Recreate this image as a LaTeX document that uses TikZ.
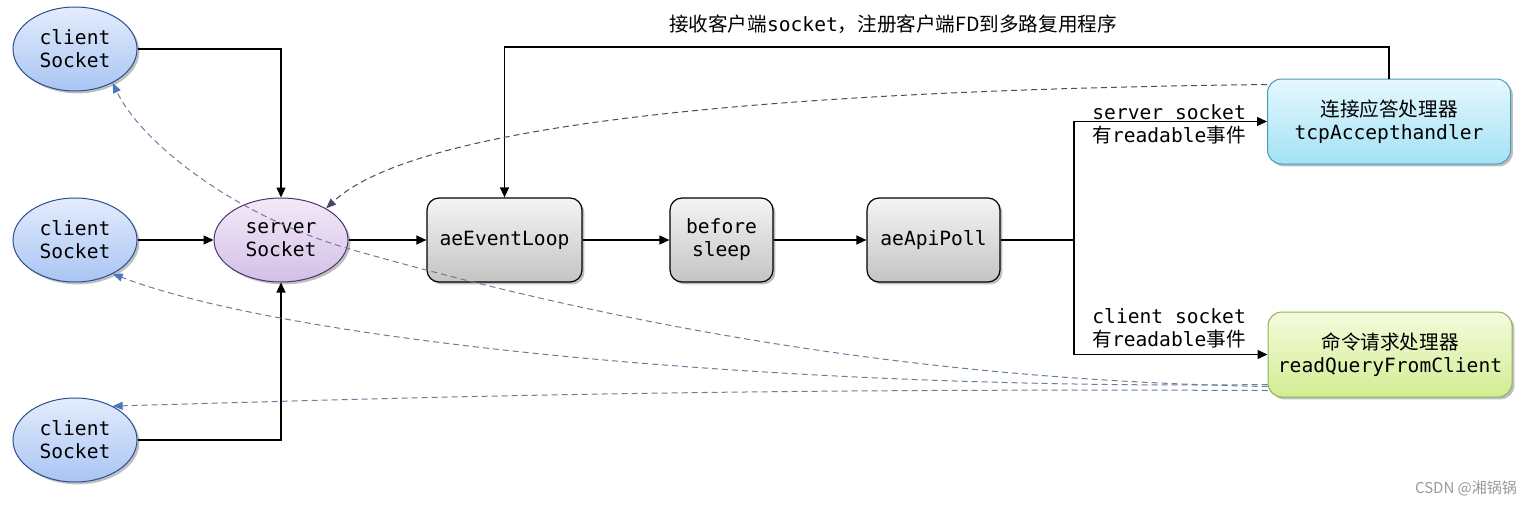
\documentclass[tikz,border=0pt]{standalone}
\usepackage{fontspec}
\setmainfont{DejaVu Sans Mono}
\newfontfamily\cjk{Noto Sans CJK SC}
\usetikzlibrary{shapes.geometric,arrows.meta,shadows,calc}
\definecolor{clTop}{HTML}{E3ECFC}
\definecolor{clBot}{HTML}{A9C5F4}
\definecolor{clDraw}{HTML}{2C4F8C}
\definecolor{svTop}{HTML}{F3EAF8}
\definecolor{svBot}{HTML}{D3BFE7}
\definecolor{svDraw}{HTML}{4D3566}
\definecolor{gyTop}{HTML}{F4F4F4}
\definecolor{gyBot}{HTML}{C4C4C4}
\definecolor{tcTop}{HTML}{E6F8FD}
\definecolor{tcBot}{HTML}{A2E2F6}
\definecolor{tcDraw}{HTML}{4A9AB5}
\definecolor{cmTop}{HTML}{F5FBDD}
\definecolor{cmBot}{HTML}{D2ED92}
\definecolor{cmDraw}{HTML}{8FB05A}
\definecolor{dashcol}{HTML}{6A7D99}
\definecolor{bluetip}{HTML}{4A78C0}
\definecolor{darktip}{HTML}{4A4A6A}
\tikzset{
  shad/.style={drop shadow={shadow xshift=1.2pt,shadow yshift=-1.2pt,opacity=0.25,fill=black}},
  clientnode/.style={ellipse,draw=clDraw,line width=0.5pt,top color=clTop,bottom color=clBot,
    minimum width=62pt,minimum height=42pt,inner sep=0pt,align=center,shad},
  servernode/.style={ellipse,draw=svDraw,line width=0.5pt,top color=svTop,bottom color=svBot,
    minimum width=67pt,minimum height=42pt,inner sep=0pt,align=center,shad},
  graybox/.style={rectangle,rounded corners=6pt,draw=black,line width=0.6pt,top color=gyTop,bottom color=gyBot,
    minimum height=42pt,inner sep=0pt,align=center,shad},
  tcpbox/.style={rectangle,rounded corners=7pt,draw=tcDraw,line width=0.5pt,top color=tcTop,bottom color=tcBot,
    minimum width=121.5pt,minimum height=42.5pt,inner sep=0pt,align=center,shad},
  cmdbox/.style={rectangle,rounded corners=7pt,draw=cmDraw,line width=0.5pt,top color=cmTop,bottom color=cmBot,
    minimum width=122pt,minimum height=42.5pt,inner sep=0pt,align=center,shad},
  arr/.style={draw=black,line width=0.65pt,-{Triangle[length=5pt,width=4.5pt]}},
  plain/.style={draw=black,line width=0.65pt},
  dashblue/.style={draw=dashcol,line width=0.5pt,dash pattern=on 3pt off 2pt,
    -{Triangle[length=5pt,width=4pt,fill=bluetip,color=bluetip]}},
  dashdark/.style={draw=darktip,line width=0.5pt,dash pattern=on 3pt off 2pt,
    -{Triangle[length=5pt,width=4pt,fill=darktip,color=darktip]}},
  lbl/.style={align=left,inner sep=0pt}
}
\begin{document}
\begin{tikzpicture}[x=0.5pt,y=-0.5pt,font=\fontsize{9.8}{11.5}\selectfont]
\useasboundingbox (0,0) rectangle (1531,504);

% nodes
\node[clientnode] (c1) at (75,49) {client\\Socket};
\node[clientnode] (c2) at (75,240) {client\\Socket};
\node[clientnode] (c3) at (75,440) {client\\Socket};
\node[servernode] (sv) at (281,240) {server\\Socket};
\node[graybox,minimum width=77.5pt] (evl) at (504.5,240) {aeEventLoop};
\node[graybox,minimum width=51.5pt] (bsl) at (721.5,240) {before\\sleep};
\node[graybox,minimum width=66.5pt] (poll) at (933.5,240) {aeApiPoll};
\node[tcpbox] (tcp) at (1389,121.5) {{\cjk 连接应答处理器}\\tcpAccepthandler};
\node[cmdbox] (cmd) at (1390,354.5) {{\cjk 命令请求处理器}\\readQueryFromClient};

% labels
\node[inner sep=0pt] (toplbl) at (893,24) {{\cjk 接收客户端}socket{\cjk ，注册客户端FD到多路复用程序}};
\node[lbl,anchor=west] (l1) at (1092,124) {server socket\\{\cjk 有}readable{\cjk 事件}};
\node[lbl,anchor=west] (l2) at (1092,328) {client socket\\{\cjk 有}readable{\cjk 事件}};
\node[inner sep=0pt,text=black!40] (wm) at (1466,488) {\fontsize{7.5}{9}\selectfont\cjk CSDN @湘锅锅};

% coordinates
\coordinate (top) at (0,47);
\coordinate (br) at (1074,240);

% solid connectors
\draw[arr] (c1.east) -| (sv.north);
\draw[arr] (c2.east) -- (sv.west);
\draw[arr] (c3.east) -| (sv.south);
\draw[arr] (sv.east) -- (evl.west);
\draw[arr] (evl.east) -- (bsl.west);
\draw[arr] (bsl.east) -- (poll.west);
\draw[plain] (poll.east) -- (br);
\draw[arr] (br) |- (tcp.west);
\draw[arr] (br) |- (cmd.west);
\draw[arr] (tcp.north) -- (tcp.north |- top) -| (evl.north);

% dashed connectors
\coordinate (tcpout) at ($(tcp.north west)+(0,6)$);
\coordinate (cmdout) at ($(cmd.south west)+(0,-11)$);
\draw[dashdark] (tcpout) .. controls (800,90) and (420,120) .. (sv.35);
\draw[dashblue] ($(cmdout)+(0,0)$) .. controls (900,380) and (600,320) .. (353,250)
   .. controls (230,215) and (140,140) .. (c1.-42);
\draw[dashblue] ($(cmdout)+(0,-2)$) .. controls (800,390) and (300,345) .. (c2.-42);
\draw[dashblue] ($(cmdout)+(0,4)$) .. controls (700,388) and (400,398) .. (c3.42);
\end{tikzpicture}
\end{document}
